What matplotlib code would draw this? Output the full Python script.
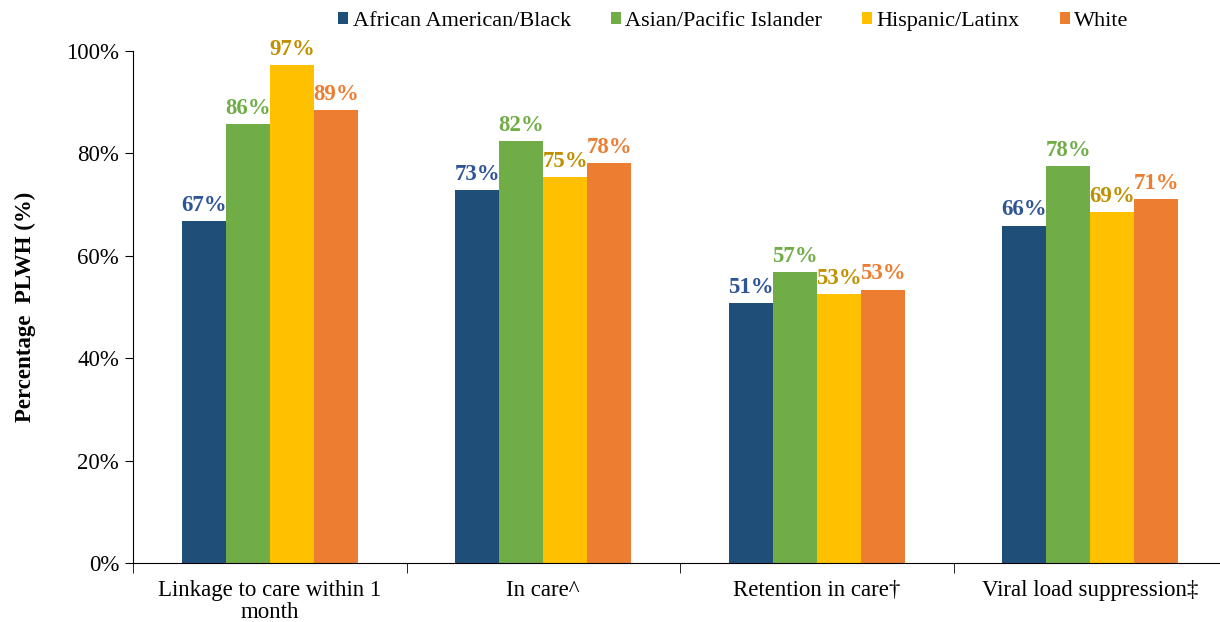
import numpy as np
import matplotlib.pyplot as plt
from matplotlib.patches import Patch

plt.rcParams['font.family'] = ['Liberation Serif', 'DejaVu Serif']

categories = ['Linkage to care within 1\nmonth', 'In care^', 'Retention in care\u2020', 'Viral load suppression\u2021']
groups = ['African American/Black', 'Asian/Pacific Islander', 'Hispanic/Latinx', 'White']
black = [66.7, 72.8, 50.8, 65.9]
asian = [85.8, 82.4, 56.8, 77.5]
hispanic = [97.3, 75.4, 52.6, 68.6]
white = [88.5, 78.1, 53.4, 71.1]
labels = [['67%', '73%', '51%', '66%'],
          ['86%', '82%', '57%', '78%'],
          ['97%', '75%', '53%', '69%'],
          ['89%', '78%', '53%', '71%']]

series = [black, asian, hispanic, white]
bar_colors = ['#1F4E79', '#70AD47', '#FFC000', '#ED7D31']
text_colors = ['#2F5597', '#70AD47', '#BF9000', '#ED7D31']

fig = plt.figure(figsize=(12.2, 6.22), dpi=100)
ax = fig.add_axes([133 / 1220, 59 / 622, 1094 / 1220, 512 / 622])

x = np.arange(len(categories))
w = 0.161
for i, (vals, c, tc) in enumerate(zip(series, bar_colors, text_colors)):
    pos = x + (i - 1.5) * w
    ax.bar(pos, vals, width=w, color=c, zorder=2)
    for p, v, t in zip(pos, vals, labels[i]):
        ax.text(p, v + 1.0, t, ha='center', va='bottom', fontsize=16.5,
                fontweight='bold', color=tc)

ax.set_xlim(-0.5, len(categories) - 0.5)
ax.set_ylim(0, 100)
ax.set_yticks(np.arange(0, 101, 20))
ax.set_yticklabels([f'{v}%' for v in range(0, 101, 20)], fontsize=16.5)
ax.set_xticks(x)
ax.set_xticklabels(categories, fontsize=16.5, linespacing=1.1)
ax.tick_params(axis='x', length=0, pad=12)
ax.set_xticks(np.arange(-0.5, len(categories), 1), minor=True)
ax.tick_params(axis='x', which='minor', length=7, direction='out')
ax.tick_params(axis='y', length=6, direction='out', pad=4)
ax.spines['top'].set_visible(False)
ax.spines['right'].set_visible(False)
ax.set_ylabel('Percentage  PLWH (%)', fontsize=16.5, fontweight='bold', labelpad=22)

handles = [Patch(facecolor=c) for c in bar_colors]
fig.legend(handles, groups, loc='center', bbox_to_anchor=(0.601, 0.966), ncol=4,
           frameon=False, fontsize=16, handlelength=0.45, handleheight=0.5,
           handletextpad=0.2, columnspacing=1.8)

fig.savefig('out.png', dpi=100)
